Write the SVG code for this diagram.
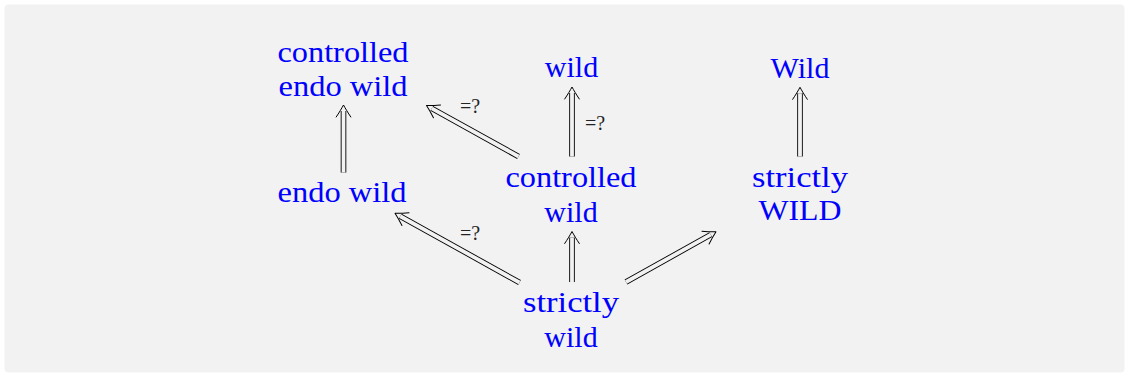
<svg xmlns="http://www.w3.org/2000/svg" width="1129" height="377" viewBox="0 0 1129 377">
<style>
.bg{fill:#f2f2f2}
.n{font-size:30px;fill:#0000ff;text-anchor:middle}
.lbl{font-size:20px;fill:#222;text-anchor:middle}
.outer{fill:none;stroke:#000;stroke-width:5.6}
.inner{fill:none;stroke:#f2f2f2;stroke-width:3.8;marker-end:url(#ah)}
</style>
<defs>
<marker id="ah" markerUnits="userSpaceOnUse" orient="auto" refX="0" refY="0" markerWidth="1" markerHeight="1" style="overflow:visible">
<path d="M -6,-7.3 C -2,-4.6 3,-1.6 6,0 C 3,1.6 -2,4.6 -6,7.3" fill="none" stroke="#000" stroke-width="1" stroke-linecap="round" stroke-linejoin="round"/>
</marker>
</defs>
<rect class="bg" x="4.5" y="4.5" width="1120" height="368" rx="4"/>
<g id="connectors" font-family="Liberation Serif, DejaVu Serif, Noto Serif, Times New Roman, serif">
<g id="e1"><path class="outer" d="M343.5,172.5 L343.5,111"/><path class="inner" d="M343.5,172.5 L343.5,111"/></g>
<g id="e2"><path class="outer" d="M518.5,156.5 L431.75,108.41"/><path class="inner" d="M518.5,156.5 L431.75,108.41"/><text class="lbl" x="470" y="113">=?</text></g>
<g id="e3"><path class="outer" d="M572,156.5 L572,93"/><path class="inner" d="M572,156.5 L572,93"/><text class="lbl" x="595" y="130">=?</text></g>
<g id="e4"><path class="outer" d="M800,156.5 L800,93.3"/><path class="inner" d="M800,156.5 L800,93.3"/></g>
<g id="e5"><path class="outer" d="M519.5,282.5 L400.25,216.22"/><path class="inner" d="M519.5,282.5 L400.25,216.22"/><text class="lbl" x="470" y="240">=?</text></g>
<g id="e6"><path class="outer" d="M572,282 L572,237.5"/><path class="inner" d="M572,282 L572,237.5"/></g>
<g id="e7"><path class="outer" d="M626,282 L710.76,234.63"/><path class="inner" d="M626,282 L710.76,234.63"/></g>
</g>
<g id="nodes" font-family="Liberation Serif, DejaVu Serif, Noto Serif, Times New Roman, serif">
<g id="controlled-endo-wild"><text class="n" x="343" y="62" textLength="131" lengthAdjust="spacingAndGlyphs">controlled</text><text class="n" x="343" y="96" textLength="129" lengthAdjust="spacingAndGlyphs">endo wild</text></g>
<g id="wild"><text class="n" x="571.5" y="77">wild</text></g>
<g id="Wild"><text class="n" x="800" y="78">Wild</text></g>
<g id="endo-wild"><text class="n" x="342" y="202" textLength="129" lengthAdjust="spacingAndGlyphs">endo wild</text></g>
<g id="controlled-wild"><text class="n" x="571" y="187" textLength="131" lengthAdjust="spacingAndGlyphs">controlled</text><text class="n" x="571" y="221.5">wild</text></g>
<g id="strictly-WILD"><text class="n" x="800" y="187" textLength="96" lengthAdjust="spacingAndGlyphs">strictly</text><text class="n" x="800" y="220" textLength="83" lengthAdjust="spacingAndGlyphs">WILD</text></g>
<g id="strictly-wild"><text class="n" x="571" y="311.5" textLength="96" lengthAdjust="spacingAndGlyphs">strictly</text><text class="n" x="571" y="346.5">wild</text></g>
</g>
</svg>
